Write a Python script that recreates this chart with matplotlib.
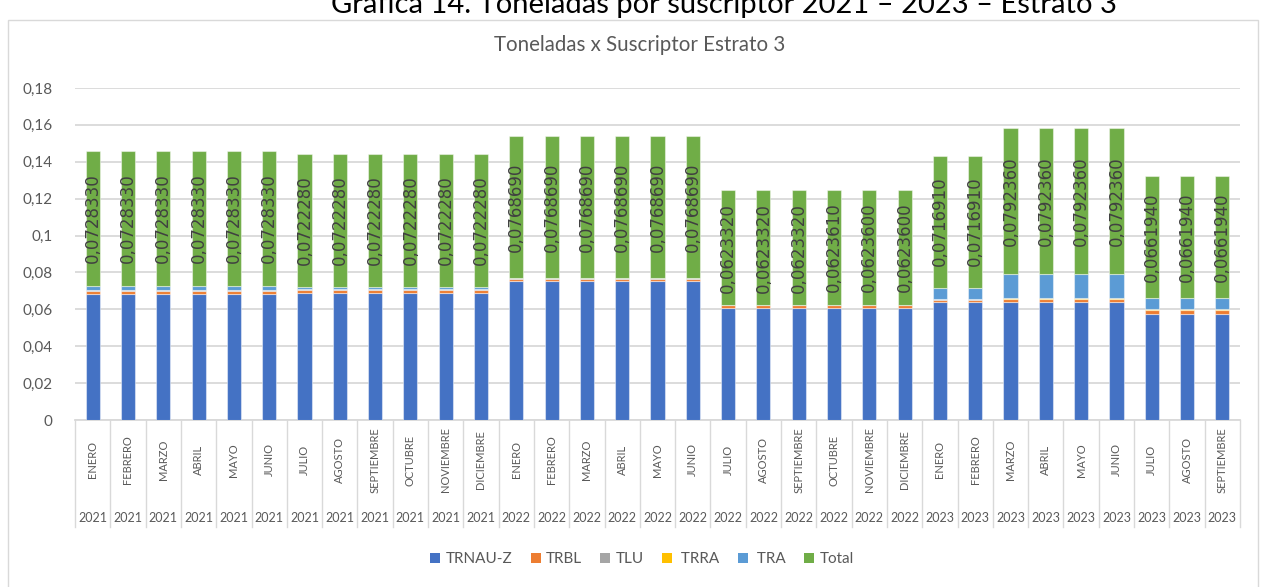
import matplotlib
matplotlib.use("Agg")
import matplotlib.pyplot as plt
from matplotlib.patches import Rectangle, Patch
import matplotlib.transforms as mtransforms
import numpy as np

plt.rcParams['font.family'] = ['Lato', 'DejaVu Sans']

months = ["ENERO", "FEBRERO", "MARZO", "ABRIL", "MAYO", "JUNIO", "JULIO", "AGOSTO",
          "SEPTIEMBRE", "OCTUBRE", "NOVIEMBRE", "DICIEMBRE",
          "ENERO", "FEBRERO", "MARZO", "ABRIL", "MAYO", "JUNIO", "JULIO", "AGOSTO",
          "SEPTIEMBRE", "OCTUBRE", "NOVIEMBRE", "DICIEMBRE",
          "ENERO", "FEBRERO", "MARZO", "ABRIL", "MAYO", "JUNIO", "JULIO", "AGOSTO",
          "SEPTIEMBRE"]
years = ["2021"] * 12 + ["2022"] * 12 + ["2023"] * 9

trnauz = [0.0683, 0.0683, 0.0683, 0.0683, 0.0683, 0.0683,
          0.0687, 0.0687, 0.0687, 0.0687, 0.0687, 0.0687,
          0.0753, 0.0753, 0.0753, 0.0753, 0.0753, 0.0753,
          0.0608, 0.0608, 0.0608, 0.0608, 0.0608, 0.0608,
          0.0638, 0.0638, 0.0638, 0.0638, 0.0638, 0.0638,
          0.0576, 0.0576, 0.0576]
trbl = [0.0017, 0.0017, 0.0017, 0.0017, 0.0017, 0.0017,
        0.0018, 0.0018, 0.0018, 0.0018, 0.0018, 0.0018,
        0.0013, 0.0013, 0.0013, 0.0013, 0.0013, 0.0013,
        0.0013, 0.0013, 0.0013, 0.0013, 0.0013, 0.0013,
        0.0015, 0.0015, 0.0017, 0.0017, 0.0017, 0.0017,
        0.0020, 0.0020, 0.0020]
tlu = [0.0004, 0.0004, 0.0004, 0.0004, 0.0004, 0.0004,
       0.0005, 0.0005, 0.0005, 0.0005, 0.0005, 0.0005,
       0.0002, 0.0002, 0.0002, 0.0002, 0.0002, 0.0002,
       0.0002, 0.0002, 0.0002, 0.0002, 0.0002, 0.0002,
       0.0003, 0.0003, 0.0003, 0.0003, 0.0003, 0.0003,
       0.0003, 0.0003, 0.0003]
trra = [0.0001, 0.0001, 0.0001, 0.0001, 0.0001, 0.0001,
        0.0001, 0.0001, 0.0001, 0.0001, 0.0001, 0.0001,
        0.0001, 0.0001, 0.0001, 0.0001, 0.0001, 0.0001,
        0.0000, 0.0000, 0.0000, 0.0000, 0.0000, 0.0000,
        0.0001, 0.0001, 0.0001, 0.0001, 0.0001, 0.0001,
        0.0001, 0.0001, 0.0001]
tra = [0.0023, 0.0023, 0.0023, 0.0023, 0.0023, 0.0023,
       0.0011, 0.0011, 0.0011, 0.0011, 0.0011, 0.0011,
       0.0000, 0.0000, 0.0000, 0.0000, 0.0000, 0.0000,
       0.0000, 0.0000, 0.0000, 0.0000, 0.0000, 0.0000,
       0.0060, 0.0060, 0.0133, 0.0133, 0.0133, 0.0133,
       0.0062, 0.0062, 0.0062]
total = [0.072833, 0.072833, 0.072833, 0.072833, 0.072833, 0.072833,
         0.072228, 0.072228, 0.072228, 0.072228, 0.072228, 0.072228,
         0.076869, 0.076869, 0.076869, 0.076869, 0.076869, 0.076869,
         0.062332, 0.062332, 0.062332, 0.062361, 0.062360, 0.062360,
         0.071691, 0.071691, 0.079236, 0.079236, 0.079236, 0.079236,
         0.066194, 0.066194, 0.066194]

series = [("TRNAU-Z", trnauz, "#4472C4"),
          ("TRBL", trbl, "#ED7D31"),
          ("TLU", tlu, "#A5A5A5"),
          (" TRRA", trra, "#FFC000"),
          (" TRA", tra, "#5B9BD5"),
          ("Total", total, "#70AD47")]

W, H = 1266, 587
fig = plt.figure(figsize=(W / 100, H / 100), dpi=100)
fig.patch.set_facecolor("white")

# chart border
fig.patches.append(Rectangle((8 / W, -0.05), (1258 - 8) / W, 1.05 - 20 / H,
                             transform=fig.transFigure, fill=False,
                             edgecolor="#D9D9D9", linewidth=1.0))

# outer caption (cut by the top edge, as in the source image)
fig.text(724 / W, 1 - 13 / H, "Gráfica 14. Toneladas por suscriptor 2021 – 2023 – Estrato 3",
         ha="center", va="baseline", fontsize=21, color="black")

ax = fig.add_axes([75 / W, (H - 420) / H, (1240 - 75) / W, (420 - 88) / H])
x = np.arange(len(months))
bottom = np.zeros(len(months))
grey = "#595959"
for name, vals, col in series:
    vals = np.array(vals)
    ax.bar(x, vals, width=0.4, bottom=bottom, color=col,
           edgecolor=(1, 1, 1, 0.45), linewidth=0.8, label=name, zorder=3)
    if name == "Total":
        for xi, b, v in zip(x, bottom, vals):
            ax.text(xi, b + v / 2, f"{v:.7f}".replace(".", ","), rotation=90,
                    ha="center", va="center", fontsize=12, color="#404040",
                    zorder=4, family=["DejaVu Sans"])
    bottom = bottom + vals

ax.set_xlim(-0.5, len(months) - 0.5)
ax.set_ylim(0, 0.18)
yt = np.arange(0, 0.181, 0.02)
ax.set_yticks(yt)
ax.set_yticklabels(["0" if v == 0 else f"{v:.2f}".rstrip("0").replace(".", ",")
                    for v in yt], fontsize=11, color=grey)
ax.tick_params(axis="y", length=0, pad=16)
ax.grid(axis="y", color="#D9D9D9", linewidth=1.3, zorder=0)
ax.set_axisbelow(True)
for s in ax.spines.values():
    s.set_visible(False)
ax.set_xticks([])

trans = mtransforms.blended_transform_factory(ax.transData, ax.transAxes)
sep_bottom = -(527 - 420) / (420 - 88)
for b in np.arange(-0.5, len(months), 1.0):
    ax.plot([b, b], [0, sep_bottom], transform=trans, color="#D9D9D9",
            linewidth=1.0, clip_on=False)
ax.plot([-0.5, len(months) - 0.5], [0, 0], transform=trans, color="#D9D9D9",
        linewidth=1.3, clip_on=False)
for xi, m, yv in zip(x, months, years):
    ax.text(xi, -(460 - 420) / (420 - 88), m, transform=trans, rotation=90,
            ha="center", va="center", fontsize=8, color=grey)
    ax.text(xi, -(518 - 420) / (420 - 88), yv, transform=trans,
            ha="center", va="center", fontsize=9, color=grey)

fig.text(640 / W, 1 - 45 / H, "Toneladas x Suscriptor Estrato 3", ha="center",
         va="center", fontsize=14.8, color=grey)

handles = [Patch(facecolor=c, edgecolor="none") for _, _, c in series]
labels = [n for n, _, _ in series]
fig.legend(handles, labels, loc="center", bbox_to_anchor=(642 / W, 1 - 559 / H),
           ncol=6, frameon=False, fontsize=11, handlelength=0.65, handleheight=0.65,
           handletextpad=0.35, columnspacing=1.2, labelcolor=grey)

fig.savefig("out.png", dpi=100)
